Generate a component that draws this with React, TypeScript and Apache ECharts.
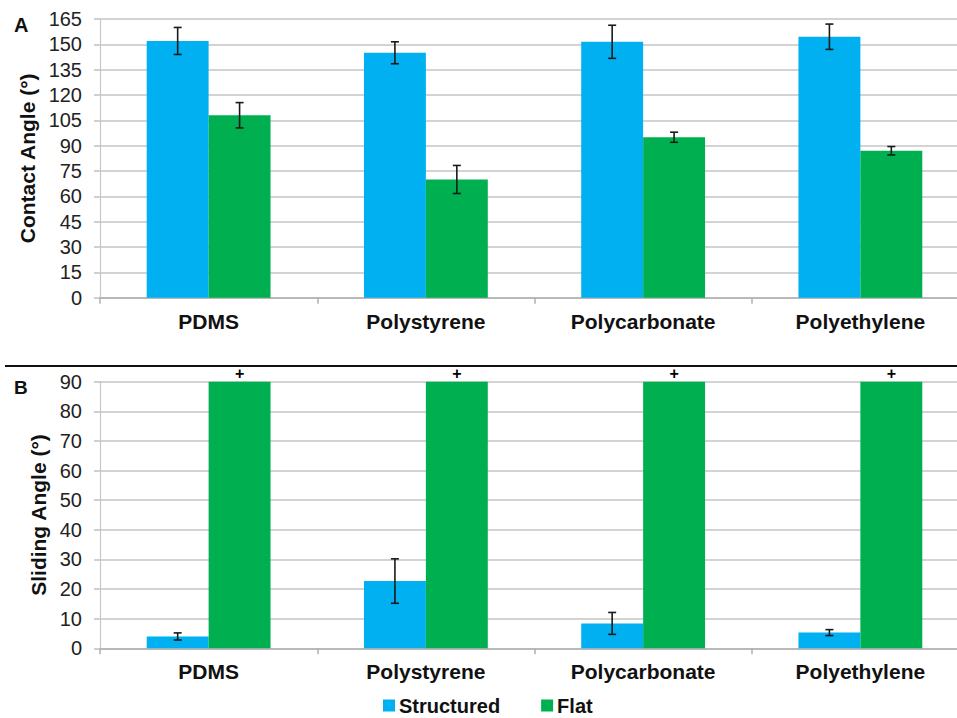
import React, { useEffect, useRef } from "react";
import * as echarts from "echarts";

const categories = ["PDMS", "Polystyrene", "Polycarbonate", "Polyethylene"];
const contactTicks = { min: 0, max: 165, interval: 15 };
const slidingTicks = { min: 0, max: 90, interval: 10 };

const contactStructured = [152, 145, 151.5, 154.5];
const contactStructuredErr = [8, 6.5, 9.8, 7.5];
const contactFlat = [108, 70, 95, 87];
const contactFlatErr = [7.5, 8.3, 3, 2.5];

const slidingStructured = [4, 22.7, 8.4, 5.3];
const slidingStructuredErr = [1.2, 7.5, 3.7, 1];
const slidingFlat = [90, 90, 90, 90];
const slidingFlatMark = "+";

const BLUE = "#00B0F0";
const GREEN = "#00B050";
const FONT = "'Liberation Sans', Arial, sans-serif";
const CAT_GAP = 0.43;

function errData(vals: number[], errs: number[]) {
  return vals.map((v, i) => [i, v - errs[i], v + errs[i]]);
}

function errorSeries(data: number[][], side: number, axisIdx: number) {
  return {
    type: "custom",
    xAxisIndex: axisIdx,
    yAxisIndex: axisIdx,
    silent: true,
    z: 10,
    data,
    renderItem: (params: any, api: any) => {
      const idx = api.value(0);
      const lo = api.coord([idx, api.value(1)]);
      const hi = api.coord([idx, api.value(2)]);
      const band = api.size([1, 0])[0];
      const barW = (band * (1 - CAT_GAP)) / 2;
      const x = lo[0] + (side * barW) / 2;
      const cap = 4;
      const style = { stroke: "#1a1a1a", lineWidth: 1.6 };
      return {
        type: "group",
        children: [
          { type: "line", shape: { x1: x, y1: lo[1], x2: x, y2: hi[1] }, style },
          { type: "line", shape: { x1: x - cap, y1: lo[1], x2: x + cap, y2: lo[1] }, style },
          { type: "line", shape: { x1: x - cap, y1: hi[1], x2: x + cap, y2: hi[1] }, style },
        ],
      };
    },
  };
}

function xAxis(gridIndex: number) {
  return {
    type: "category",
    gridIndex,
    data: categories,
    axisLine: { show: true, lineStyle: { color: "#b0b0b0", width: 1.5 } },
    axisTick: { show: true, length: 6, lineStyle: { color: "#b0b0b0", width: 1.5 } },
    axisLabel: {
      margin: 13,
      fontSize: 21,
      fontWeight: "bold",
      color: "#111",
      fontFamily: FONT,
    },
  };
}

function yAxis(gridIndex: number, t: any, name: string, nameGap: number) {
  return {
    type: "value",
    gridIndex,
    min: t.min,
    max: t.max,
    interval: t.interval,
    name,
    nameLocation: "middle",
    nameGap,
    nameTextStyle: { fontSize: 21, fontWeight: "bold", color: "#111", fontFamily: FONT },
    axisLine: { show: true, lineStyle: { color: "#c8c8c8", width: 1.2 } },
    axisTick: { show: true, length: 6, lineStyle: { color: "#c0c0c0", width: 1.5 } },
    axisLabel: { margin: 18, fontSize: 20, color: "#222", fontFamily: FONT },
    splitLine: { show: true, lineStyle: { color: "#c4c4c4", width: 1.5 } },
  };
}

export default function App() {
  const ref = useRef<HTMLDivElement>(null);
  useEffect(() => {
    if (!ref.current) return;
    const chart = echarts.init(ref.current, null, { renderer: "svg" });
    const option: any = {
      animation: false,
      backgroundColor: "#fff",
      textStyle: { fontFamily: FONT },
      grid: [
        { left: 100, right: -12, top: 19, height: 278.7, containLabel: false, outerBoundsMode: "none" },
        { left: 100, right: -12, top: 381.7, height: 266.6, containLabel: false, outerBoundsMode: "none" },
      ],
      xAxis: [xAxis(0), xAxis(1)],
      yAxis: [
        yAxis(0, contactTicks, "Contact Angle (°)", 61),
        yAxis(1, slidingTicks, "Sliding Angle (°)", 50),
      ],
      legend: {
        data: ["Structured", "Flat"],
        left: 383,
        top: 694,
        icon: "rect",
        itemWidth: 12,
        itemHeight: 12,
        itemGap: 41,
        padding: 0,
        textStyle: {
          fontSize: 20, lineHeight: 23, fontWeight: "bold", color: "#111", fontFamily: FONT,
          padding: [0, 0, 0, -1],
        },
      },
      graphic: [
        { type: "text", left: 14, top: 15, style: { text: "A", fontSize: 20, fontWeight: "bold", fill: "#111", fontFamily: FONT } },
        { type: "text", left: 14, top: 378, style: { text: "B", fontSize: 19, fontWeight: "bold", fill: "#111", fontFamily: FONT } },
        { type: "line", shape: { x1: 5, y1: 366, x2: 957, y2: 366 }, style: { stroke: "#111", lineWidth: 2 } },
      ],
      series: [
        {
          name: "Structured", type: "bar", xAxisIndex: 0, yAxisIndex: 0,
          data: contactStructured, barGap: "0%", barCategoryGap: CAT_GAP * 100 + "%",
          itemStyle: { color: BLUE },
        },
        {
          name: "Flat", type: "bar", xAxisIndex: 0, yAxisIndex: 0,
          data: contactFlat, barGap: "0%", barCategoryGap: CAT_GAP * 100 + "%",
          itemStyle: { color: GREEN },
        },
        {
          name: "Structured", type: "bar", xAxisIndex: 1, yAxisIndex: 1,
          data: slidingStructured, barGap: "0%", barCategoryGap: CAT_GAP * 100 + "%",
          itemStyle: { color: BLUE },
        },
        {
          name: "Flat", type: "bar", xAxisIndex: 1, yAxisIndex: 1,
          data: slidingFlat, barGap: "0%", barCategoryGap: CAT_GAP * 100 + "%",
          itemStyle: { color: GREEN },
          label: {
            show: true, position: "top", distance: 0, formatter: slidingFlatMark,
            fontSize: 16, fontWeight: "bold", color: "#000", fontFamily: FONT,
          },
        },
        errorSeries(errData(contactStructured, contactStructuredErr), -1, 0),
        errorSeries(errData(contactFlat, contactFlatErr), 1, 0),
        errorSeries(errData(slidingStructured, slidingStructuredErr), -1, 1),
      ],
    };
    chart.setOption(option);
    return () => chart.dispose();
  }, []);
  return (
    <div
      ref={ref}
      style={{ position: "fixed", left: 0, top: 0, width: 957, height: 718, background: "#fff" }}
    />
  );
}
